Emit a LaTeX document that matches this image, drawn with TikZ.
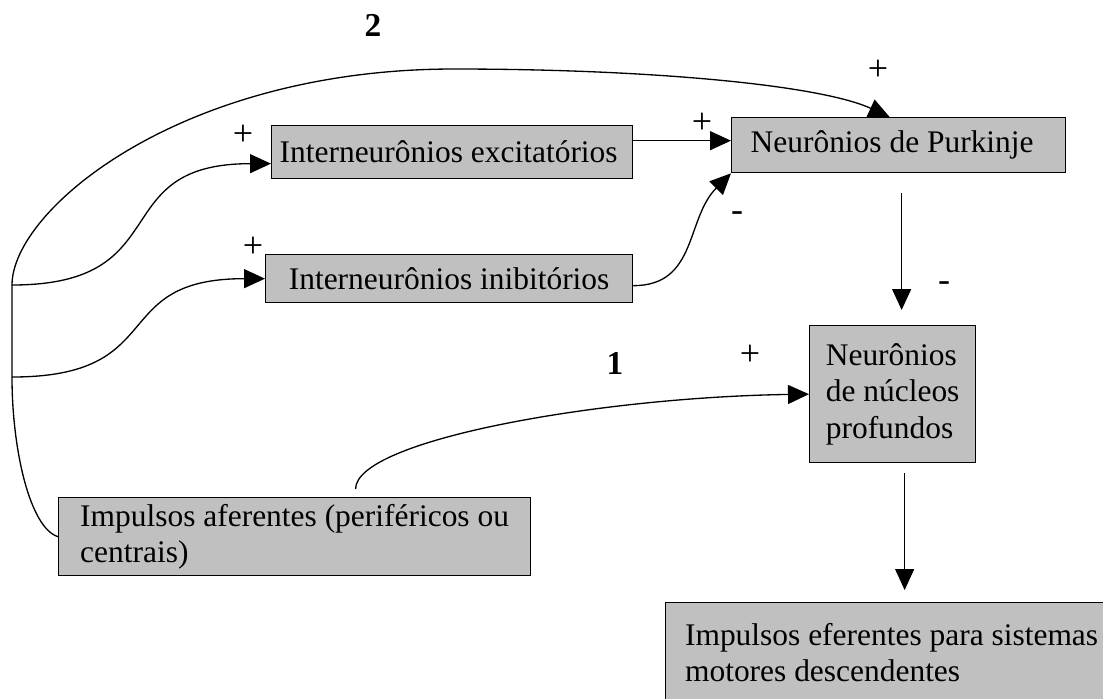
\documentclass[tikz,border=0pt]{standalone}
\usepackage{fontspec}
\setmainfont{Liberation Serif}
\usetikzlibrary{arrows.meta,calc}
\definecolor{cinza}{RGB}{192,192,192}
\tikzset{
  caixa/.style={draw, fill=cinza, line width=0.75pt, anchor=north west, inner xsep=0pt, inner ysep=0pt, align=flush left, font=\fontsize{17.9pt}{20.8pt}\selectfont},
  sinal/.style={font=\fontsize{20.5pt}{24pt}\selectfont, inner sep=0pt},
  numero/.style={font=\fontsize{19pt}{22pt}\selectfont\bfseries, inner sep=0pt},
  seta/.style={line width=0.75pt, -{Triangle[length=4.2mm,width=3.8mm]}},
}

\begin{document}
\begin{tikzpicture}[x=0.02cm, y=-0.02cm]
	%%%%% START %%%%%
	\path[use as bounding box] (0,0) rectangle (1103,698);
	\clip (0,0) rectangle (1103,698);
	
	% caixas
	\node[caixa, minimum width=7.22cm, minimum height=1.06cm, text width=6.9cm] (exc) at (271,125) {Interneurônios excitatórios};
	\node[caixa, minimum width=6.68cm, minimum height=1.1cm, text width=5.92cm] (purk) at (731,117) {Neurônios de Purkinje};
	\node[caixa, minimum width=7.34cm, minimum height=0.96cm] (inib) at (265,254) {Interneurônios inibitórios};
	\node[caixa, minimum width=3.32cm, minimum height=2.74cm] (nucleos) at (809,325) {Neurônios\\de núcleos\\profundos};
	\node[caixa, minimum width=9.44cm, minimum height=1.56cm] (aferentes) at (58,497) {Impulsos aferentes (periféricos ou\\centrais)};
	\node[caixa, minimum width=9.04cm, minimum height=2cm] (eferentes) at (665,602) {Impulsos eferentes para sistemas\\motores descendentes};
	
	% ramos da esquerda
	\coordinate (jA) at (12,285);
	\coordinate (jB) at (12,377);
	
	\draw[seta] (aferentes.west) .. controls (30,528) and (12,450) .. (jB) -- (jA)
		.. controls (12,210) and (180,69) .. (454,69)
		.. controls (650,69) and (820,85) .. ([xshift=-0.18cm]purk.north);
	\draw[seta] (jA) to[out=0, in=180, looseness=1.5] ([yshift=-0.23cm]exc.west);
	\draw[seta] (jB) to[out=0, in=180, looseness=1.5] (inib.west);
	
	% para Purkinje
	\draw[seta] ([yshift=0.23cm]exc.east) -- ([yshift=0.23cm]exc.east -| purk.west);
	\draw[seta] ([yshift=-0.14cm]inib.east) to[out=0, in=225, looseness=1.1] (purk.south west);
	
	% via 1
	\draw[seta] ([xshift=1.22cm, yshift=0.16cm]aferentes.north) .. controls +(0,-49) and +(-209,3) .. (nucleos.west);
	
	% descendo
	\draw[seta, shorten <=0.4cm, shorten >=0.3cm] ([xshift=0.06cm]purk.south) -- ([xshift=0.06cm]purk.south |- nucleos.north);
	\draw[seta, shorten <=0.2cm, shorten >=0.24cm] ([xshift=0.24cm]nucleos.south) -- ([xshift=0.24cm]nucleos.south |- eferentes.north);
	
	% sinais
	\node[numero] (n2) at (373,25) {2};
	\node[numero] (n1) at (615,363) {1};
	\node[sinal] (s1) at (243,135) {+};
	\node[sinal] (s2) at (253,247) {+};
	\node[sinal] (s3) at (702,123) {+};
	\node[sinal] (s4) at (878,70) {+};
	\node[sinal] (s5) at (750,355) {+};
	\node[sinal] (s6) at (737,217) {-};
	\node[sinal] (s7) at (944,287) {-};
	%%%%% END %%%%%
\end{tikzpicture}
\end{document}
